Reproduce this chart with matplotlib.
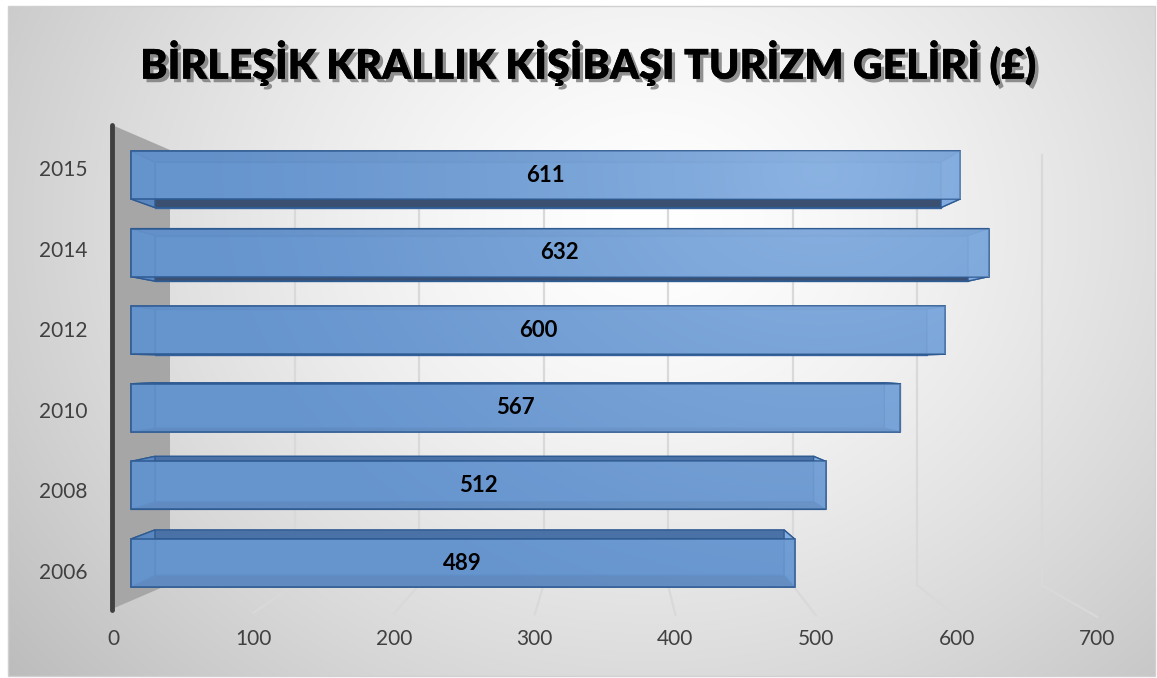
import numpy as np
import matplotlib
matplotlib.use("Agg")
import matplotlib.pyplot as plt
from matplotlib.patches import Polygon, Rectangle
import matplotlib.patheffects as pe

# data
years = ["2006", "2008", "2010", "2012", "2014", "2015"]
income = [489, 512, 567, 600, 632, 611]
xticks = [0, 100, 200, 300, 400, 500, 600, 700]
title = "BİRLEŞİK KRALLIK KİŞİBAŞI TURİZM GELİRİ (£)"

W, H = 1157, 678
fig = plt.figure(figsize=(W / 100, H / 100), dpi=100)
fig.patch.set_facecolor("white")

# background / walls in pixel space
bg = fig.add_axes([0, 0, 1, 1])
bg.set_xlim(0, W)
bg.set_ylim(H, 0)
bg.axis("off")

yy, xx = np.mgrid[0:H, 0:W]
r = np.hypot((xx - 650) / 1.0, (yy - 220) / 0.85) / 720
g = 1 - 0.21 * np.clip(r, 0, 1.2) ** 1.4
bg.imshow(np.dstack([g, g, g]), extent=(8, W - 2, H - 2, 6), zorder=0, aspect="auto")
bg.add_patch(Rectangle((8, 6), W - 10, H - 8, fill=False, ec="#d0d0d0", lw=1, zorder=1))

def back_x(v):
    return 170 + 1.245 * v

def front_x(v):
    return 113 + 1.406 * v

# left wall + axis line
bg.add_patch(Polygon([(112, 125), (170, 150), (170, 584), (112, 609)], closed=True,
                     fc="#a6a6a6", ec="none", zorder=2))
bg.plot([112, 112], [125, 610], color="#404040", lw=3.5, solid_capstyle="round", zorder=3)

# back wall gridlines and floor lines
for v in xticks[1:]:
    bx = back_x(v)
    bg.plot([bx, bx], [155, 585], color="#d9d9d9", lw=1.6, zorder=2)
    bg.plot([bx, front_x(v)], [585, 612 + v * 0.007], color="#d9d9d9", lw=1.6, zorder=2)

# title
bg.text(588, 63, title, ha="center", va="center", fontsize=29.5, fontweight="heavy",
        family=["Lato", "DejaVu Sans"], color="black",
        path_effects=[pe.withSimplePatchShadow(offset=(2.5, -2.5), shadow_rgbFace="#777777", alpha=0.8),
                      pe.Normal()], zorder=5)

# bar axes: 0 at px 131, 1.357 px per unit; rows 77.6 px apart, 2006 row at py 563
sx, x0 = 1.357, 131
sy, y0 = 77.6, 563
L, R, T, B = 100, 1150, 110, 650
ax = fig.add_axes([L / W, (H - B) / H, (R - L) / W, (B - T) / H])
ax.patch.set_alpha(0)
ax.set_xlim((L - x0) / sx, (R - x0) / sx)
ax.set_ylim((y0 - B) / sy, (y0 - T) / sy)
for s in ax.spines.values():
    s.set_visible(False)
ax.set_xticks([])
ax.set_yticks([])
pos = np.arange(len(years))

# year labels sit on the front wall edge, spaced a bit wider than the bars
ly0, lsy = 571, 80.6
secy = ax.secondary_yaxis("left",
                          functions=(lambda k: (ly0 - y0 + sy * k) / lsy,
                                     lambda j: (lsy * j - (ly0 - y0)) / sy))
secy.set_yticks(pos)
secy.set_yticklabels(years, fontsize=15, color="#404040", family=["Lato", "DejaVu Sans"])
secy.tick_params(length=0, pad=9)
secy.spines["left"].set_visible(False)

# vanishing point and depth scale for the 3D look
vx, vy = (592 - x0) / sx, (y0 - 364) / sy
f = 0.948
h = 48 / sy

def back(p):
    return (vx + f * (p[0] - vx), vy + f * (p[1] - vy))

bh = ax.barh(pos, income, height=h, left=0, color="#6896cf", alpha=0.85,
             edgecolor="#2f5b93", linewidth=1.3, zorder=5)

# light sheen that follows the background highlight
xl, yl = ax.get_xlim(), ax.get_ylim()
gx, gy = np.meshgrid(np.linspace(xl[0], xl[1], 300), np.linspace(yl[1], yl[0], 200))
px, py = x0 + sx * gx, y0 - sy * gy
rr = np.hypot(px - 820, (py - 170) * 1.3) / 650
sheen = np.zeros((200, 300, 4))
sheen[..., 0] = 0.75
sheen[..., 1] = 0.87
sheen[..., 2] = 1.0
sheen[..., 3] = 0.42 * np.clip(1 - rr, 0, 1) ** 1.3

for rect in bh:
    x_a, y_a = rect.get_x(), rect.get_y()
    x_b, y_b = x_a + rect.get_width(), y_a + rect.get_height()
    fr = [(x_a, y_a), (x_b, y_a), (x_b, y_b), (x_a, y_b)]
    bk = [back(p) for p in fr]
    ax.add_patch(Polygon(bk, closed=True, fc="#5c8ac4", ec="#3a67a3", lw=1.0, zorder=2))
    faces = [
        ([fr[3], fr[2], bk[2], bk[3]], "#4a72a6"),  # top
        ([fr[0], fr[1], bk[1], bk[0]], "#3b5070"),  # bottom
        ([fr[0], fr[3], bk[3], bk[0]], "#5a86bf"),  # left
        ([fr[1], fr[2], bk[2], bk[1]], "#82abe0"),  # right
    ]
    for pts, c in faces:
        ax.add_patch(Polygon(pts, closed=True, fc=c, ec="#2f5b93", lw=1.0, zorder=3))
    im = ax.imshow(sheen, extent=(xl[0], xl[1], yl[0], yl[1]), aspect="auto",
                   zorder=5.5, interpolation="bilinear")
    im.set_clip_path(rect)

ax.set_xlim(xl)
ax.set_ylim(yl)

for p, v in zip(pos, income):
    ax.text(v / 2, p, str(v), ha="center", va="center", fontsize=16, fontweight="bold",
            family=["Lato", "DejaVu Sans"], color="black", zorder=6)

# x labels on the front floor edge
sec = ax.secondary_xaxis((B - 618) / (B - T),
                         functions=(lambda v: (x0 - 113 + sx * v) / 1.406,
                                    lambda t: (1.406 * t - (x0 - 113)) / sx))
sec.set_xticks(xticks)
sec.set_xticklabels([str(t) for t in xticks], fontsize=15, color="#404040",
                    family=["Lato", "DejaVu Sans"])
sec.tick_params(length=0, pad=8)
sec.spines["bottom"].set_visible(False)

fig.savefig("out.png", dpi=100)
